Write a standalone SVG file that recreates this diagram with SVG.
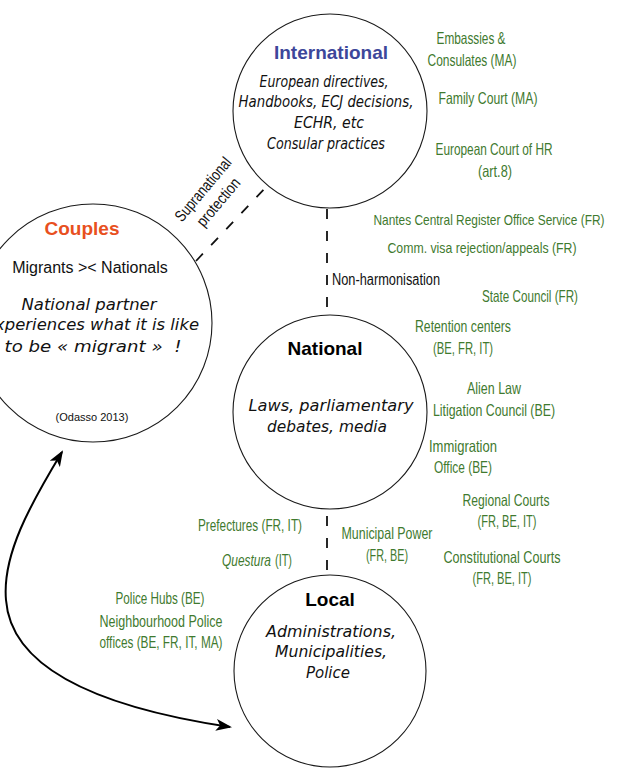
<svg xmlns="http://www.w3.org/2000/svg" width="636" height="771" viewBox="0 0 636 771">
<style>
.circ{fill:#fff;stroke:#1a1a1a;stroke-width:1.1}
.dash{fill:none;stroke:#111;stroke-width:1.8;stroke-dasharray:10 12}
.title{font-family:"Liberation Sans",Arial,sans-serif;font-weight:bold;font-size:19px;text-anchor:middle}
.hand{font-family:"DejaVu Sans",sans-serif;font-style:italic;font-size:15.5px;text-anchor:middle;fill:#111}
.g{font-family:"Liberation Sans",Arial,sans-serif;font-size:16.5px;fill:#3f7a2f;text-anchor:middle}
.k{font-family:"Liberation Sans",Arial,sans-serif;font-size:16px;fill:#111}
.reg{font-family:"Liberation Sans",Arial,sans-serif;fill:#111;text-anchor:middle}
</style>
<defs>
<marker id="ah" viewBox="0 0 16 12" refX="14" refY="6" markerWidth="16" markerHeight="12" markerUnits="userSpaceOnUse" orient="auto-start-reverse">
<path d="M0,0 L16,6 L0,12 L4,6 z" fill="#000"/>
</marker>
</defs>
<rect width="636" height="771" fill="#fff"/>

<g id="connectors">
<line class="dash" x1="327" y1="209" x2="327" y2="314"/>
<line class="dash" x1="327" y1="516" x2="327" y2="575" stroke-dasharray="11 12"/>
<line class="dash" x1="196" y1="261" x2="268" y2="185"/>
<path d="M62,452 C30,505 2,555 6,600 C12,680 130,712 230,727" fill="none" stroke="#000" stroke-width="2" marker-start="url(#ah)" marker-end="url(#ah)"/>
<text class="k" x="332" y="285" textLength="108" lengthAdjust="spacingAndGlyphs">Non-harmonisation</text>
<g transform="translate(211,196) rotate(-50)">
<text class="k" x="0" y="-5" style="text-anchor:middle" textLength="78" lengthAdjust="spacingAndGlyphs">Supranational</text>
<text class="k" x="0" y="15" style="text-anchor:middle" textLength="58" lengthAdjust="spacingAndGlyphs">protection</text>
</g>
</g>

<g id="international">
<circle class="circ" cx="330" cy="111" r="97"/>
<text class="title" x="331" y="59" fill="#3d479a" font-size="20">International</text>
<text class="hand" x="324" y="87" textLength="129" lengthAdjust="spacingAndGlyphs">European directives,</text>
<text class="hand" x="326" y="107" textLength="175" lengthAdjust="spacingAndGlyphs">Handbooks, ECJ decisions,</text>
<text class="hand" x="329" y="128" textLength="70" lengthAdjust="spacingAndGlyphs">ECHR, etc</text>
<text class="hand" x="326" y="149" textLength="118" lengthAdjust="spacingAndGlyphs">Consular practices</text>
</g>

<g id="couples">
<circle class="circ" cx="93" cy="323" r="119"/>
<text class="title" x="82" y="235" fill="#e8501e">Couples</text>
<text class="reg" x="90" y="273" font-size="16">Migrants &gt;&lt; Nationals</text>
<text class="hand" x="89" y="310" textLength="135" lengthAdjust="spacingAndGlyphs">National partner</text>
<text class="hand" x="92" y="330" textLength="214" lengthAdjust="spacingAndGlyphs">experiences what it is like</text>
<text class="hand" x="93" y="352" textLength="177" lengthAdjust="spacingAndGlyphs">to be « migrant » &#160;!</text>
<text class="reg" x="92" y="421" font-size="11">(Odasso 2013)</text>
</g>

<g id="national">
<circle class="circ" cx="330" cy="412" r="97"/>
<text class="title" x="325" y="355" fill="#000">National</text>
<text class="hand" x="331" y="411" textLength="165" lengthAdjust="spacingAndGlyphs">Laws, parliamentary</text>
<text class="hand" x="327" y="432" textLength="120" lengthAdjust="spacingAndGlyphs">debates, media</text>
</g>

<g id="local">
<circle class="circ" cx="330" cy="671" r="96"/>
<text class="title" x="330" y="606" fill="#000">Local</text>
<text class="hand" x="331" y="637" textLength="130" lengthAdjust="spacingAndGlyphs">Administrations,</text>
<text class="hand" x="331" y="657" textLength="112" lengthAdjust="spacingAndGlyphs">Municipalities,</text>
<text class="hand" x="328" y="678" textLength="44" lengthAdjust="spacingAndGlyphs">Police</text>
</g>

<g id="actors">
<text class="g" x="471" y="44" textLength="69" lengthAdjust="spacingAndGlyphs">Embassies &amp;</text>
<text class="g" x="472" y="66" textLength="89" lengthAdjust="spacingAndGlyphs">Consulates (MA)</text>
<text class="g" x="488" y="104" textLength="99" lengthAdjust="spacingAndGlyphs">Family Court (MA)</text>
<text class="g" x="494" y="155" textLength="117" lengthAdjust="spacingAndGlyphs">European Court of HR</text>
<text class="g" x="495" y="177" textLength="34" lengthAdjust="spacingAndGlyphs">(art.8)</text>
<text class="g" x="489" y="225" textLength="231" lengthAdjust="spacingAndGlyphs" style="font-size:14.5px">Nantes Central Register Office Service (FR)</text>
<text class="g" x="482" y="253" textLength="189" lengthAdjust="spacingAndGlyphs" style="font-size:15px">Comm. visa rejection/appeals (FR)</text>
<text class="g" x="530" y="302" textLength="96" lengthAdjust="spacingAndGlyphs">State Council (FR)</text>
<text class="g" x="463" y="332" textLength="96" lengthAdjust="spacingAndGlyphs">Retention centers</text>
<text class="g" x="463" y="354" textLength="60" lengthAdjust="spacingAndGlyphs">(BE, FR, IT)</text>
<text class="g" x="494" y="394" textLength="54" lengthAdjust="spacingAndGlyphs">Alien Law</text>
<text class="g" x="494" y="416" textLength="122" lengthAdjust="spacingAndGlyphs">Litigation Council (BE)</text>
<text class="g" x="463" y="452" textLength="68" lengthAdjust="spacingAndGlyphs">Immigration</text>
<text class="g" x="463" y="473" textLength="58" lengthAdjust="spacingAndGlyphs">Office (BE)</text>
<text class="g" x="506" y="506" textLength="87" lengthAdjust="spacingAndGlyphs">Regional Courts</text>
<text class="g" x="507" y="527" textLength="59" lengthAdjust="spacingAndGlyphs">(FR, BE, IT)</text>
<text class="g" x="250" y="531" textLength="104" lengthAdjust="spacingAndGlyphs">Prefectures (FR, IT)</text>
<text class="g" x="387" y="539" textLength="91" lengthAdjust="spacingAndGlyphs">Municipal Power</text>
<text class="g" x="387" y="561" textLength="42" lengthAdjust="spacingAndGlyphs">(FR, BE)</text>
<text class="g" x="271" y="566" style="text-anchor:end;font-style:italic" textLength="49" lengthAdjust="spacingAndGlyphs">Questura</text>
<text class="g" x="275" y="566" style="text-anchor:start" textLength="17" lengthAdjust="spacingAndGlyphs">(IT)</text>
<text class="g" x="502" y="563" textLength="117" lengthAdjust="spacingAndGlyphs">Constitutional Courts</text>
<text class="g" x="502" y="584" textLength="59" lengthAdjust="spacingAndGlyphs">(FR, BE, IT)</text>
<text class="g" x="160" y="604" textLength="89" lengthAdjust="spacingAndGlyphs">Police Hubs (BE)</text>
<text class="g" x="161" y="627" textLength="123" lengthAdjust="spacingAndGlyphs">Neighbourhood Police</text>
<text class="g" x="161" y="648" textLength="123" lengthAdjust="spacingAndGlyphs">offices (BE, FR, IT, MA)</text>
</g>
</svg>
